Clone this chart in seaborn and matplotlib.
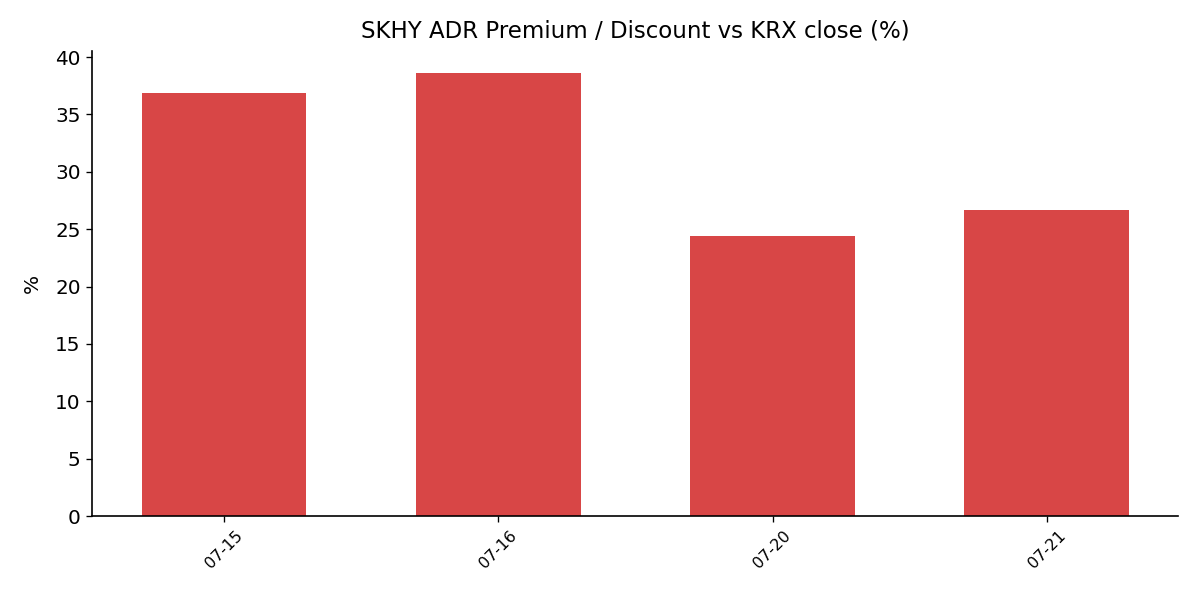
import matplotlib
matplotlib.use("Agg")
import matplotlib.pyplot as plt
import seaborn as sns
import pandas as pd

dates = ["07-15", "07-16", "07-20", "07-21"]
premium = [36.9, 38.6, 24.4, 26.7]

df = pd.DataFrame({"date": dates, "premium": premium})

sns.set_style("ticks", {"axes.edgecolor": "black", "text.color": "black",
                        "xtick.color": "black", "ytick.color": "black",
                        "axes.labelcolor": "black"})
plt.rcParams['font.family'] = ['DejaVu Sans']
plt.rcParams['xtick.major.size'] = 3.5
plt.rcParams['ytick.major.size'] = 3.5
plt.rcParams['axes.linewidth'] = 1.0

fig, ax = plt.subplots(figsize=(10, 5), dpi=120)
sns.barplot(data=df, x="date", y="premium", color="#d84646", saturation=1,
            width=0.6, linewidth=0, ax=ax)
ax.set_xlim(-0.48, 3.48)
ax.set_title("SKHY ADR Premium / Discount vs KRX close (%)", fontsize=13.7, pad=8)
ax.set_ylabel("%", fontsize=12, labelpad=8)
ax.set_xlabel("")
ax.tick_params(axis="y", labelsize=12)
ax.tick_params(axis="x", labelsize=9.5, rotation=45)
sns.despine(ax=ax)
fig.subplots_adjust(left=0.077, right=0.982, bottom=0.14, top=0.915)
fig.savefig("out.png", dpi=120)
